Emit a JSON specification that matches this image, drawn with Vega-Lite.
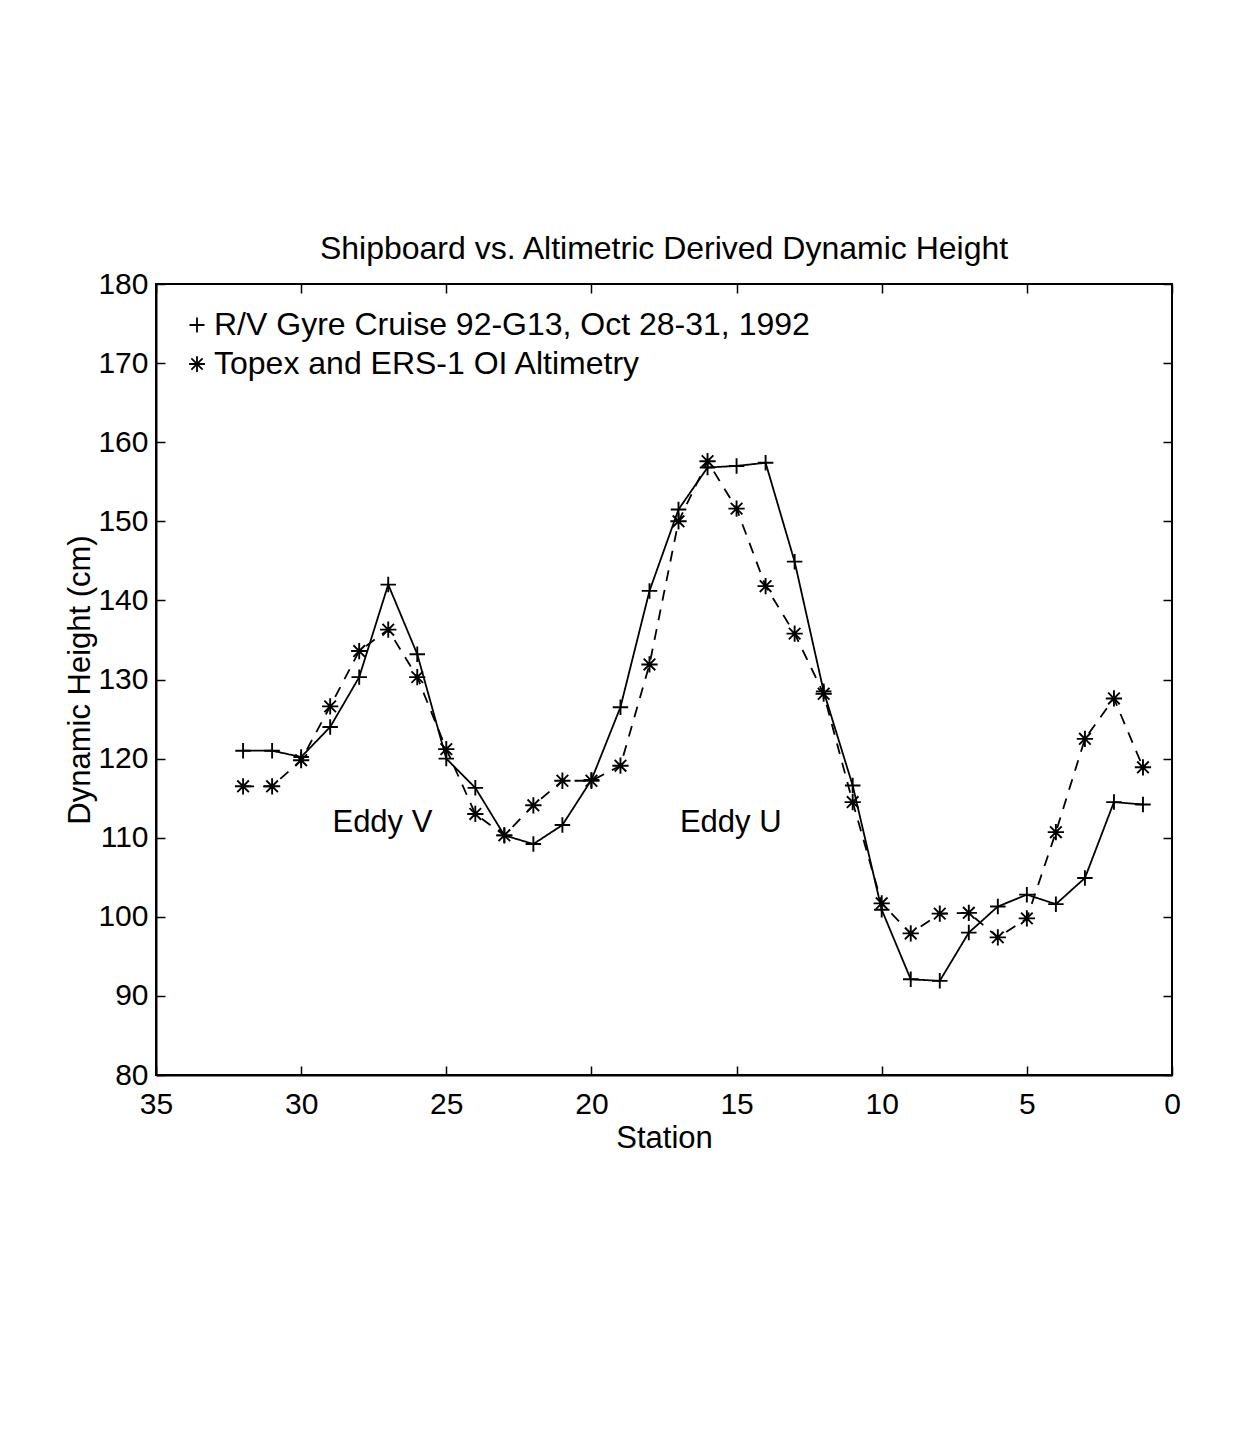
{
  "$schema": "https://vega.github.io/schema/vega-lite/v6.json",
  "width": 1016,
  "height": 791,
  "autosize": {"type": "none"},
  "padding": {"left": 156, "top": 284, "right": 76, "bottom": 356},
  "background": "white",
  "title": {
    "text": "Shipboard vs. Altimetric Derived Dynamic Height",
    "font": "Liberation Sans",
    "fontSize": 32,
    "fontWeight": "normal",
    "color": "black",
    "anchor": "middle",
    "offset": 3
  },
  "config": {
    "view": {"stroke": "black", "strokeWidth": 2},
    "axis": {
      "labelFont": "Liberation Sans",
      "labelFontSize": 30,
      "labelColor": "black",
      "labelFlush": false,
      "titleFont": "Liberation Sans",
      "titleFontSize": 31,
      "titleFontWeight": "normal",
      "titleColor": "black",
      "tickColor": "black",
      "domainColor": "black",
      "domainWidth": 2,
      "tickWidth": 1.5,
      "tickSize": -9,
      "grid": false
    },
    "legend": {
      "labelFont": "Liberation Sans",
      "labelFontSize": 32,
      "labelColor": "black",
      "labelLimit": 0
    }
  },
  "datasets": {
    "series": [
      {"station": 32, "value": 121.0, "series": "R/V Gyre Cruise 92-G13, Oct 28-31, 1992"},
      {"station": 31, "value": 121.0, "series": "R/V Gyre Cruise 92-G13, Oct 28-31, 1992"},
      {"station": 30, "value": 120.2, "series": "R/V Gyre Cruise 92-G13, Oct 28-31, 1992"},
      {"station": 29, "value": 124.0, "series": "R/V Gyre Cruise 92-G13, Oct 28-31, 1992"},
      {"station": 28, "value": 130.3, "series": "R/V Gyre Cruise 92-G13, Oct 28-31, 1992"},
      {"station": 27, "value": 142.0, "series": "R/V Gyre Cruise 92-G13, Oct 28-31, 1992"},
      {"station": 26, "value": 133.2, "series": "R/V Gyre Cruise 92-G13, Oct 28-31, 1992"},
      {"station": 25, "value": 120.0, "series": "R/V Gyre Cruise 92-G13, Oct 28-31, 1992"},
      {"station": 24, "value": 116.3, "series": "R/V Gyre Cruise 92-G13, Oct 28-31, 1992"},
      {"station": 23, "value": 110.3, "series": "R/V Gyre Cruise 92-G13, Oct 28-31, 1992"},
      {"station": 22, "value": 109.2, "series": "R/V Gyre Cruise 92-G13, Oct 28-31, 1992"},
      {"station": 21, "value": 111.6, "series": "R/V Gyre Cruise 92-G13, Oct 28-31, 1992"},
      {"station": 20, "value": 117.3, "series": "R/V Gyre Cruise 92-G13, Oct 28-31, 1992"},
      {"station": 19, "value": 126.5, "series": "R/V Gyre Cruise 92-G13, Oct 28-31, 1992"},
      {"station": 18, "value": 141.2, "series": "R/V Gyre Cruise 92-G13, Oct 28-31, 1992"},
      {"station": 17, "value": 151.5, "series": "R/V Gyre Cruise 92-G13, Oct 28-31, 1992"},
      {"station": 16, "value": 156.8, "series": "R/V Gyre Cruise 92-G13, Oct 28-31, 1992"},
      {"station": 15, "value": 157.0, "series": "R/V Gyre Cruise 92-G13, Oct 28-31, 1992"},
      {"station": 14, "value": 157.4, "series": "R/V Gyre Cruise 92-G13, Oct 28-31, 1992"},
      {"station": 13, "value": 144.9, "series": "R/V Gyre Cruise 92-G13, Oct 28-31, 1992"},
      {"station": 12, "value": 128.5, "series": "R/V Gyre Cruise 92-G13, Oct 28-31, 1992"},
      {"station": 11, "value": 116.6, "series": "R/V Gyre Cruise 92-G13, Oct 28-31, 1992"},
      {"station": 10, "value": 100.9, "series": "R/V Gyre Cruise 92-G13, Oct 28-31, 1992"},
      {"station": 9, "value": 92.1, "series": "R/V Gyre Cruise 92-G13, Oct 28-31, 1992"},
      {"station": 8, "value": 91.9, "series": "R/V Gyre Cruise 92-G13, Oct 28-31, 1992"},
      {"station": 7, "value": 98.0, "series": "R/V Gyre Cruise 92-G13, Oct 28-31, 1992"},
      {"station": 6, "value": 101.3, "series": "R/V Gyre Cruise 92-G13, Oct 28-31, 1992"},
      {"station": 5, "value": 102.8, "series": "R/V Gyre Cruise 92-G13, Oct 28-31, 1992"},
      {"station": 4, "value": 101.6, "series": "R/V Gyre Cruise 92-G13, Oct 28-31, 1992"},
      {"station": 3, "value": 104.9, "series": "R/V Gyre Cruise 92-G13, Oct 28-31, 1992"},
      {"station": 2, "value": 114.5, "series": "R/V Gyre Cruise 92-G13, Oct 28-31, 1992"},
      {"station": 1, "value": 114.2, "series": "R/V Gyre Cruise 92-G13, Oct 28-31, 1992"},
      {"station": 32, "value": 116.5, "series": "Topex and ERS-1 OI Altimetry"},
      {"station": 31, "value": 116.5, "series": "Topex and ERS-1 OI Altimetry"},
      {"station": 30, "value": 119.8, "series": "Topex and ERS-1 OI Altimetry"},
      {"station": 29, "value": 126.6, "series": "Topex and ERS-1 OI Altimetry"},
      {"station": 28, "value": 133.6, "series": "Topex and ERS-1 OI Altimetry"},
      {"station": 27, "value": 136.3, "series": "Topex and ERS-1 OI Altimetry"},
      {"station": 26, "value": 130.3, "series": "Topex and ERS-1 OI Altimetry"},
      {"station": 25, "value": 121.2, "series": "Topex and ERS-1 OI Altimetry"},
      {"station": 24, "value": 113.0, "series": "Topex and ERS-1 OI Altimetry"},
      {"station": 23, "value": 110.3, "series": "Topex and ERS-1 OI Altimetry"},
      {"station": 22, "value": 114.1, "series": "Topex and ERS-1 OI Altimetry"},
      {"station": 21, "value": 117.2, "series": "Topex and ERS-1 OI Altimetry"},
      {"station": 20, "value": 117.2, "series": "Topex and ERS-1 OI Altimetry"},
      {"station": 19, "value": 119.1, "series": "Topex and ERS-1 OI Altimetry"},
      {"station": 18, "value": 131.9, "series": "Topex and ERS-1 OI Altimetry"},
      {"station": 17, "value": 150.0, "series": "Topex and ERS-1 OI Altimetry"},
      {"station": 16, "value": 157.6, "series": "Topex and ERS-1 OI Altimetry"},
      {"station": 15, "value": 151.6, "series": "Topex and ERS-1 OI Altimetry"},
      {"station": 14, "value": 141.8, "series": "Topex and ERS-1 OI Altimetry"},
      {"station": 13, "value": 135.8, "series": "Topex and ERS-1 OI Altimetry"},
      {"station": 12, "value": 128.2, "series": "Topex and ERS-1 OI Altimetry"},
      {"station": 11, "value": 114.5, "series": "Topex and ERS-1 OI Altimetry"},
      {"station": 10, "value": 101.7, "series": "Topex and ERS-1 OI Altimetry"},
      {"station": 9, "value": 97.9, "series": "Topex and ERS-1 OI Altimetry"},
      {"station": 8, "value": 100.4, "series": "Topex and ERS-1 OI Altimetry"},
      {"station": 7, "value": 100.5, "series": "Topex and ERS-1 OI Altimetry"},
      {"station": 6, "value": 97.4, "series": "Topex and ERS-1 OI Altimetry"},
      {"station": 5, "value": 99.8, "series": "Topex and ERS-1 OI Altimetry"},
      {"station": 4, "value": 110.7, "series": "Topex and ERS-1 OI Altimetry"},
      {"station": 3, "value": 122.5, "series": "Topex and ERS-1 OI Altimetry"},
      {"station": 2, "value": 127.6, "series": "Topex and ERS-1 OI Altimetry"},
      {"station": 1, "value": 118.9, "series": "Topex and ERS-1 OI Altimetry"}
    ],
    "labels": [
      {"station": 27.2, "value": 111.8, "label": "Eddy V"},
      {"station": 15.2, "value": 111.8, "label": "Eddy U"}
    ]
  },
  "resolve": {
    "axis": {"x": "independent", "y": "independent"},
    "legend": {"shape": "independent", "strokeDash": "independent"}
  },
  "layer": [
    {
      "data": {"name": "series"},
      "mark": {"type": "line", "color": "black", "strokeWidth": 1.8},
      "encoding": {
        "x": {
          "field": "station", "type": "quantitative",
          "scale": {"domain": [0, 35], "reverse": true, "nice": false, "zero": false},
          "axis": {"orient": "bottom", "values": [0, 5, 10, 15, 20, 25, 30, 35], "title": "Station", "labelPadding": 23, "titlePadding": 4}
        },
        "y": {
          "field": "value", "type": "quantitative",
          "scale": {"domain": [80, 180], "nice": false, "zero": false},
          "axis": {"orient": "left", "values": [80, 90, 100, 110, 120, 130, 140, 150, 160, 170, 180], "title": "Dynamic Height (cm)", "labelPadding": 17, "titlePadding": 1}
        },
        "strokeDash": {
          "field": "series", "type": "nominal",
          "scale": {"domain": ["R/V Gyre Cruise 92-G13, Oct 28-31, 1992", "Topex and ERS-1 OI Altimetry"], "range": [[1, 0], [11, 9]]},
          "legend": null
        }
      }
    },
    {
      "data": {"name": "series"},
      "mark": {"type": "point", "filled": false, "color": "black", "strokeWidth": 1.9, "size": 240, "opacity": 1},
      "encoding": {
        "x": {
          "field": "station", "type": "quantitative",
          "axis": {"orient": "top", "values": [0, 5, 10, 15, 20, 25, 30, 35], "labels": false, "title": null, "domain": false}
        },
        "y": {
          "field": "value", "type": "quantitative",
          "axis": {"orient": "right", "values": [80, 90, 100, 110, 120, 130, 140, 150, 160, 170, 180], "labels": false, "title": null, "domain": false}
        },
        "shape": {
          "field": "series", "type": "nominal",
          "scale": {
            "domain": ["R/V Gyre Cruise 92-G13, Oct 28-31, 1992", "Topex and ERS-1 OI Altimetry"],
            "range": [
              "M-1,0H1M0,-1V1",
              "M-1.05,0H1.05M0,-1.05V1.05M-0.75,-0.75L0.75,0.75M-0.75,0.75L0.75,-0.75"
            ]
          },
          "legend": {
            "title": null,
            "orient": "top-left",
            "offset": 25,
            "symbolStrokeColor": "black",
            "symbolStrokeWidth": 1.8,
            "symbolSize": 225,
            "symbolFillColor": "white",
            "labelOffset": 1,
            "rowPadding": 7
          }
        }
      }
    },
    {
      "data": {"name": "labels"},
      "mark": {"type": "text", "font": "Liberation Sans", "fontSize": 31, "color": "black", "align": "center", "baseline": "middle"},
      "encoding": {
        "x": {"field": "station", "type": "quantitative", "axis": null},
        "y": {"field": "value", "type": "quantitative", "axis": null},
        "text": {"field": "label"}
      }
    }
  ]
}
